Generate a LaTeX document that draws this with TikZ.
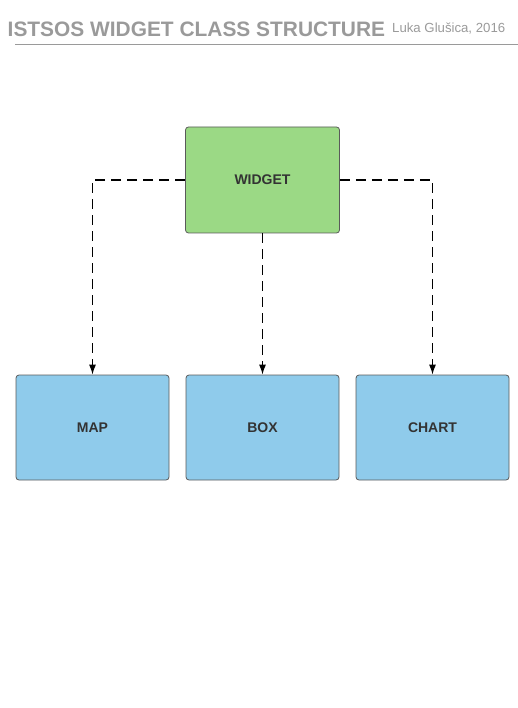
\documentclass[tikz,border=0pt]{standalone}
\usepackage{fontspec}
\setmainfont{Liberation Sans}
\usepackage{xcolor}
\usepackage{tikz}
\usetikzlibrary{positioning,%
  arrows.meta,%
  calc
}

\definecolor{titlegray}{HTML}{9A9A9A}
\definecolor{boxline}{HTML}{5A5A5A}
\definecolor{boxtext}{HTML}{333333}
\definecolor{widgetgreen}{HTML}{9BD985}
\definecolor{childblue}{HTML}{8FCBEB}

\begin{document}
\begin{tikzpicture}
                    [x=1pt, y=-1pt,
                    parent/.style={rectangle,
                        rounded corners=3pt,
                        minimum width=154pt, minimum height=106pt,
                        fill=widgetgreen, draw=boxline, line width=0.8pt,
                        text=boxtext, font=\fontsize{14}{16}\selectfont\bfseries},
                    child/.style={parent,
                        minimum width=153pt, minimum height=105pt,
                        fill=childblue},
                    link/.style={dashed, dash pattern=on 10pt off 6pt,
                        line width=1.2pt,
                        -{Latex[length=10pt,width=7pt]}}]

                    \useasboundingbox (0,0) rectangle (518,708);

                    % title
                    \node[anchor=base west, inner sep=0pt, text=titlegray,
                        font=\fontsize{20.9}{24}\selectfont\bfseries] at (7.5,37)
                        (title) {ISTSOS WIDGET CLASS STRUCTURE};
                    \node[anchor=base west, inner sep=0pt, text=titlegray,
                        font=\fontsize{13.2}{15}\selectfont] at (392,33)
                        (author) {Luka Glušica, 2016};
                    \draw[titlegray, line width=1.2pt] (15,44.3) -- (518,44.3);

                    \node[parent] at (262.5,180)
                        (widget) {WIDGET};
                    \node[child] at (92.5,427.5)
                        (map) {MAP};
                    \node[child] at (262.5,427.5)
                        (box) {BOX};
                    \node[child] at (432.5,427.5)
                        (chart) {CHART};

                    \draw[link] (widget.west) -| (map.north);
                    \draw[link] (widget.south) -- (box.north);
                    \draw[link] (widget.east) -| (chart.north);
                \end{tikzpicture}
\end{document}
